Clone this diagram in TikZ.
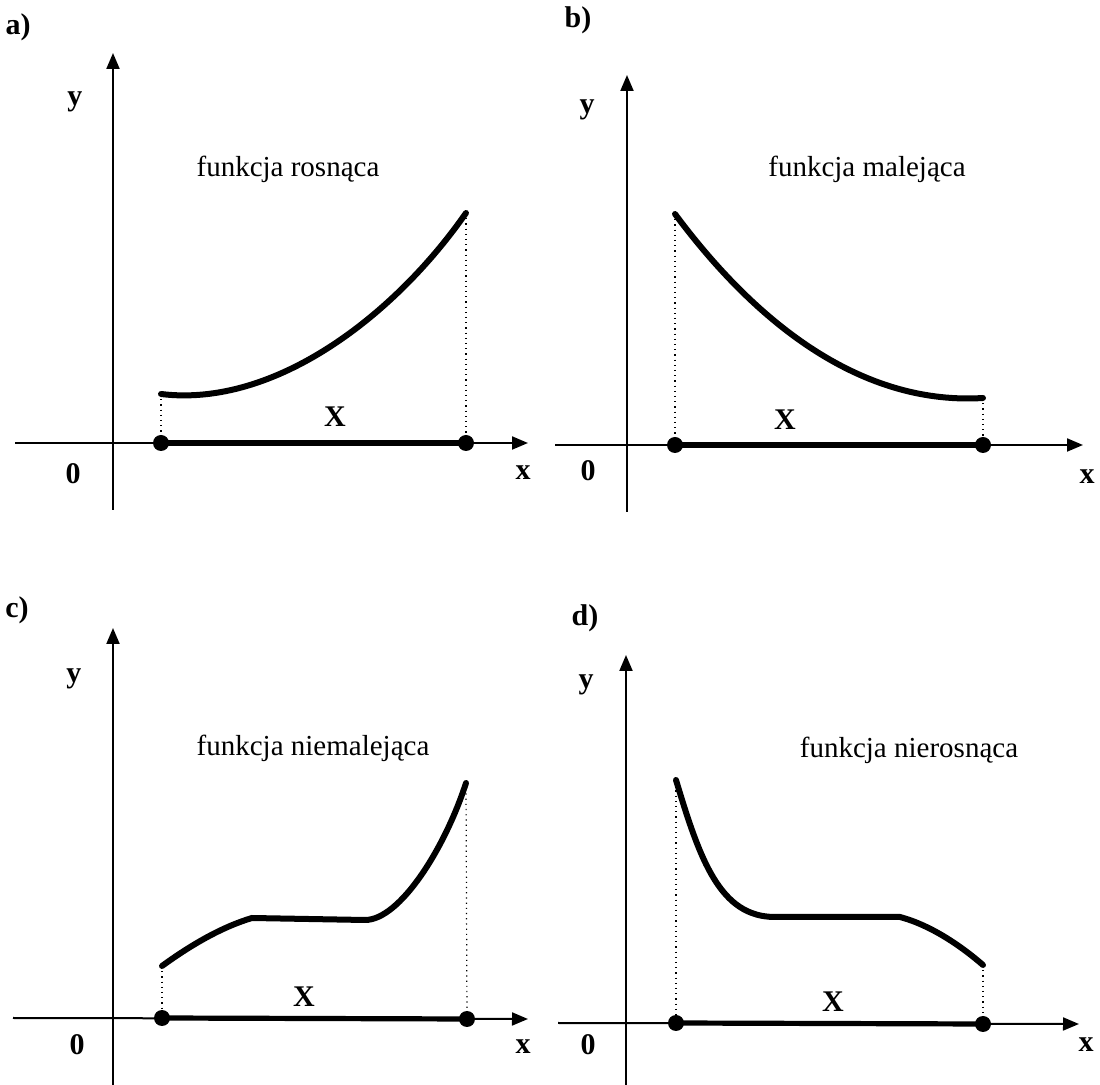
\documentclass[tikz,border=0pt]{standalone}
\usepackage{fontspec}
\setmainfont{Liberation Serif}
\usetikzlibrary{arrows.meta}
\begin{document}
\begin{tikzpicture}[x=0.5pt,y=-0.5pt,
  axis/.style={line width=1pt,-{Triangle[length=8pt,width=6.5pt]}},
  interval/.style={line width=2.6pt},
  curve/.style={line width=3pt,line cap=round},
  guide/.style={line width=0.6pt,dotted},
  dot/.style={circle,fill=black,inner sep=0pt,minimum size=8pt},
  lbl/.style={font=\bfseries\fontsize{15}{18}\selectfont,inner sep=0pt},
  txt/.style={font=\fontsize{14.5}{17}\selectfont,inner sep=0pt}]
\useasboundingbox (0,0) rectangle (1100,1085);
% ---------------- a) ----------------
\coordinate (ayb) at (113,510); \coordinate (ayt) at (113,53);
\coordinate (axl) at (15,443);  \coordinate (axr) at (528,443);
\coordinate (as) at (161,394);  \coordinate (ae) at (466,213);
\draw[axis] (ayb) -- (ayt);
\draw[axis] (axl) -- (axr);
\node[dot] (ap) at (161,443) {};
\node[dot] (aq) at (466,443) {};
\draw[interval] (ap.center) -- (aq.center);
\draw[guide] (as) -- (ap);
\draw[guide] (ae) -- (aq);
\draw[curve] (as) .. controls (275,408) and (395,315) .. (ae);
\node[lbl] (alab) at (18,27) {a)};
\node[lbl] (ay) at (75,102) {y};
\node[lbl] (a0) at (73,474) {0};
\node[lbl] (ax) at (523,473) {x};
\node[lbl] (aX) at (335,417) {X};
\node[txt] (at) at (288,169) {funkcja rosnąca};
% ---------------- b) ----------------
\coordinate (byb) at (627,512); \coordinate (byt) at (627,75);
\coordinate (bxl) at (555,445);  \coordinate (bxr) at (1083,445);
\coordinate (bs) at (675,214);  \coordinate (be) at (983,398);
\draw[axis] (byb) -- (byt);
\draw[axis] (bxl) -- (bxr);
\node[dot] (bp) at (675,445) {};
\node[dot] (bq) at (983,445) {};
\draw[interval] (bp.center) -- (bq.center);
\draw[guide] (bs) -- (bp);
\draw[guide] (be) -- (bq);
\draw[curve] (bs) .. controls (765,335) and (870,405) .. (be);
\node[lbl] (blab) at (578,20) {b)};
\node[lbl] (by) at (587,110) {y};
\node[lbl] (b0) at (588,471) {0};
\node[lbl] (bx) at (1087,477) {x};
\node[lbl] (bX) at (785,420) {X};
\node[txt] (bt) at (867,169) {funkcja malejąca};
% ---------------- c) ----------------
\coordinate (cyb) at (113,1085); \coordinate (cyt) at (113,628);
\coordinate (cxl) at (13,1018);  \coordinate (cxr) at (528,1019);
\coordinate (cs) at (162,966);  \coordinate (ce) at (466,783);
\draw[axis] (cyb) -- (cyt);
\draw[axis] (cxl) -- (cxr);
\node[dot] (cp) at (162,1018) {};
\node[dot] (cq) at (467,1019) {};
\draw[interval] (cp.center) -- (cq.center);
\draw[guide] (cs) -- (cp);
\draw[guide] (ce) -- (cq);
\draw[curve] (cs) .. controls (195,942) and (225,926) .. (252,918)
  -- (365,920) .. controls (400,920) and (445,848) .. (ce);
\node[lbl] (clab) at (17,610) {c)};
\node[lbl] (cy) at (74,679) {y};
\node[lbl] (c0) at (77,1045) {0};
\node[lbl] (cx) at (523,1047) {x};
\node[lbl] (cX) at (304,997) {X};
\node[txt] (ct) at (313,748) {funkcja niemalejąca};
% ---------------- d) ----------------
\coordinate (dyb) at (626,1085); \coordinate (dyt) at (626,655);
\coordinate (dxl) at (558,1023);  \coordinate (dxr) at (1079,1024);
\coordinate (ds) at (676,780);  \coordinate (de) at (983,965);
\draw[axis] (dyb) -- (dyt);
\draw[axis] (dxl) -- (dxr);
\node[dot] (dp) at (676,1023) {};
\node[dot] (dq) at (983,1024) {};
\draw[interval] (dp.center) -- (dq.center);
\draw[guide] (ds) -- (dp);
\draw[guide] (de) -- (dq);
\draw[curve] (ds) .. controls (700,860) and (720,917) .. (775,917)
  -- (900,917) .. controls (930,925) and (960,945) .. (de);
\node[lbl] (dlab) at (585,618) {d)};
\node[lbl] (dy) at (586,685) {y};
\node[lbl] (d0) at (588,1045) {0};
\node[lbl] (dx) at (1086,1045) {x};
\node[lbl] (dX) at (833,1002) {X};
\node[txt] (dt) at (909,750) {funkcja nierosnąca};
\end{tikzpicture}
\end{document}
